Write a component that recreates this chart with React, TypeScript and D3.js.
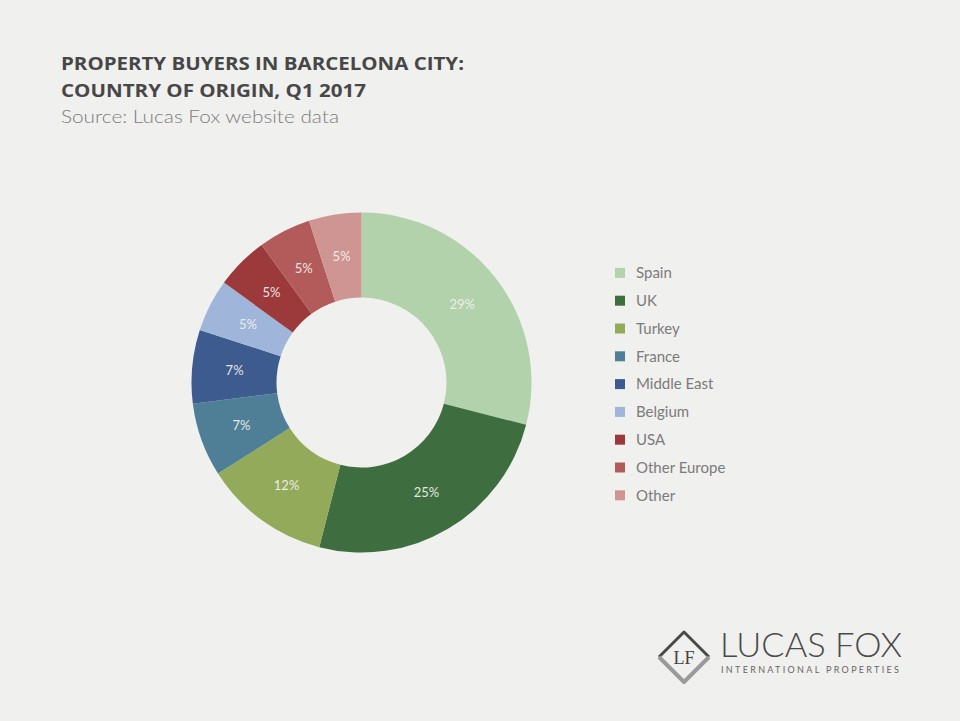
import React from "react";
import * as d3 from "d3";

const categories = ["Spain", "UK", "Turkey", "France", "Middle East", "Belgium", "USA", "Other Europe", "Other"];
const shares = [29, 25, 12, 7, 7, 5, 5, 5, 5];
const colors = ["#b2d2ab", "#3e6e40", "#93aa5b", "#4e7f97", "#3e5b8f", "#9fb5da", "#9c3a3b", "#b25b5a", "#cf9593"];
const titleLines = ["PROPERTY BUYERS IN BARCELONA CITY:", "COUNTRY OF ORIGIN, Q1 2017"];
const subtitle = "Source: Lucas Fox website data";

export default function App() {
  const W = 960, H = 721;
  const cx = 361.5, cy = 382.5, R = 170, r = 85;
  const data = categories.map((c, i) => ({ c, v: shares[i], col: colors[i] }));
  const pie = d3.pie<any>().value((d: any) => d.v).sort(null);
  const arcs = pie(data);
  const arc = d3.arc<any>().innerRadius(r).outerRadius(R);
  const legendY = d3.scaleBand().domain(categories).range([259, 259 + 27.8 * categories.length]);

  return (
    <svg width={W} height={H} style={{ position: "absolute", left: 0, top: 0, background: "#f0f0ee" }}
      fontFamily="Lato, 'Open Sans', sans-serif">
      <rect width={W} height={H} fill="#f0f0ee" />
      <text x={61} y={70} fontSize={18} fontWeight={700} fontFamily="'Open Sans', sans-serif" fill="#474747" textLength={403} lengthAdjust="spacingAndGlyphs">{titleLines[0]}</text>
      <text x={61} y={97} fontSize={18} fontWeight={700} fontFamily="'Open Sans', sans-serif" fill="#474747" textLength={305} lengthAdjust="spacingAndGlyphs">{titleLines[1]}</text>
      <text x={61} y={123} fontSize={17} fontWeight={300} fill="#7c7c7c" textLength={278} lengthAdjust="spacingAndGlyphs">{subtitle}</text>

      <g transform={`translate(${cx},${cy})`}>
        {arcs.map((a, i) => (
          <path key={i} d={arc(a) as string} fill={a.data.col} />
        ))}
        {arcs.map((a, i) => {
          const [x, y] = arc.centroid(a);
          return (
            <text key={"t" + i} x={x} y={y} dy="0.35em" textAnchor="middle" fontSize={13} fill="#f3f1ee" opacity={0.92}>
              {a.data.v}%
            </text>
          );
        })}
      </g>

      <g>
        {categories.map((c, i) => {
          const y = (legendY(c) as number) + legendY.bandwidth() / 2;
          return (
            <g key={c}>
              <rect x={615} y={y - 5} width={10} height={10} fill={colors[i]} />
              <text x={636} y={y} dy="0.35em" fontSize={15} fill="#7b7b7b">{c}</text>
            </g>
          );
        })}
      </g>

      <g>
        <path d="M659,657 L684,632 L709,657" fill="none" stroke="#4a4a4a" strokeWidth={3} strokeLinejoin="round" />
        <path d="M659,657 L684,682 L709,657" fill="none" stroke="#9a9a9a" strokeWidth={4} strokeLinejoin="round" />
        <text x={684} y={664} textAnchor="middle" fontSize={18} fontFamily="'Liberation Serif', serif" fill="#444">LF</text>
        <text x={720} y={657} fontSize={34} fontWeight={300} fill="#4a4a4a" textLength={182} lengthAdjust="spacingAndGlyphs">LUCAS FOX</text>
        <text x={721} y={673} fontSize={9} fill="#666" textLength={180} lengthAdjust="spacing" letterSpacing={2}>INTERNATIONAL PROPERTIES</text>
      </g>
    </svg>
  );
}
